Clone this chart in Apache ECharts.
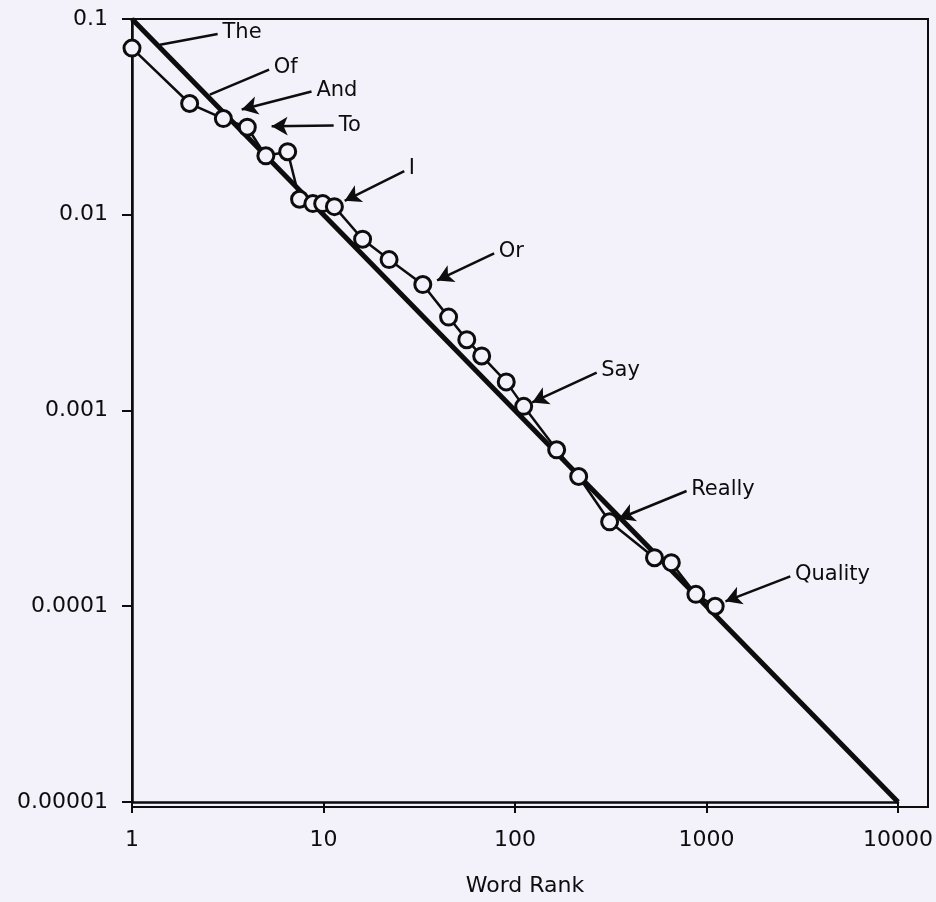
<!DOCTYPE html>
<html>
<head>
<meta charset="utf-8">
<script src="https://cdn.jsdelivr.net/npm/echarts@6/dist/echarts.min.js"></script>
<style>
    html, body { margin: 0; padding: 0; background: #f3f2fb; }
    #main { width: 936px; height: 902px; }
</style>
</head>
<body>
<div id="main"></div>
<script>
// word rank vs. relative frequency
const ranks = [1, 2, 3, 4, 5, 6.5, 7.5, 8.8, 9.9, 11.4, 16, 22, 33, 45, 56, 67, 90, 111, 165, 215, 312, 535, 655, 880, 1110];
const freqs = [0.071, 0.037, 0.031, 0.028, 0.020, 0.021, 0.012, 0.0114, 0.0114, 0.011, 0.0075, 0.0059, 0.0044, 0.0030, 0.0023, 0.0019, 0.0014, 0.00105, 0.00063, 0.00046, 0.00027, 0.000177, 0.000167, 0.000115, 0.0001];

// ideal Zipf line
const zipfRanks = [1, 10000];
const zipfFreqs = [0.1, 0.00001];

const xTicks = [1, 10, 100, 1000, 10000];
const xTickLabels = ['1', '10', '100', '1000', '10000'];
const yTicks = [0.00001, 0.0001, 0.001, 0.01, 0.1];
const yTickLabels = ['0.00001', '0.0001', '0.001', '0.01', '0.1'];

// annotated words: where the pointer starts (on the curve) and where the word sits
const words = ['The', 'Of', 'And', 'To', 'I', 'Or', 'Say', 'Really', 'Quality'];
const wordTips = [[1.4, 0.0738], [2.55, 0.0411], [3.74, 0.0345], [5.36, 0.0283], [12.9, 0.01178], [39.2, 0.00462], [123, 0.0011], [348, 0.00028], [1256, 0.000106]];
const wordEnds = [[2.8, 0.0839], [5.2, 0.0551], [8.66, 0.0426], [11.3, 0.0286], [26.4, 0.0167], [77.8, 0.00634], [267, 0.00156], [787, 0.000388], [2738, 0.000142]];
const wordArrows = [false, false, true, true, true, true, true, true, true];

const FONT = 'DejaVu Sans';
const INK = '#0d0d0d';
const BG = '#f3f2fb';

function tickLabel(ticks, labels) {
    return function (v) {
        for (let i = 0; i < ticks.length; i++) {
            if (Math.abs(Math.log10(v / ticks[i])) < 1e-6) return labels[i];
        }
        return '';
    };
}

let myChart = echarts.init(document.getElementById('main'));

let pointData = ranks.map((r, i) => [r, freqs[i]]);
let zipfData = zipfRanks.map((r, i) => [r, zipfFreqs[i]]);
let arrowData = words.map((w, i) => [
    { name: w, coord: wordTips[i], symbol: wordArrows[i] ? 'arrow' : 'none' },
    { name: w, coord: wordEnds[i], symbol: 'none' }
]);

let option = {
    backgroundColor: BG,
    animation: false,
    grid: [
        { left: 132, top: 19, width: 768, height: 788 },
        // outer frame, a little wider than the data area
        { left: 132, top: 19, width: 796, height: 788, show: true, borderColor: INK, borderWidth: 2, backgroundColor: 'transparent' }
    ],
    xAxis: [
        {
            type: 'log',
            logBase: 10,
            min: 1,
            max: 10000,
            gridIndex: 0,
            name: 'Word Rank',
            nameLocation: 'middle',
            nameGap: 73,
            nameTextStyle: { fontFamily: FONT, fontSize: 22, color: INK, padding: [0, 0, 0, 20] },
            axisLine: { lineStyle: { color: INK, width: 2.5 } },
            axisTick: { length: 11, lineStyle: { color: INK, width: 2 } },
            minorTick: { show: false },
            splitLine: { show: false },
            axisLabel: { margin: 27, fontFamily: FONT, fontSize: 22, color: INK, formatter: tickLabel(xTicks, xTickLabels) }
        },
        { type: 'value', gridIndex: 1, show: false, min: 0, max: 1 }
    ],
    yAxis: [
        {
            type: 'log',
            logBase: 10,
            min: 0.00001,
            max: 0.1,
            gridIndex: 0,
            axisLine: { lineStyle: { color: INK, width: 2.5 } },
            axisTick: { length: 10, lineStyle: { color: INK, width: 2 } },
            minorTick: { show: false },
            splitLine: { show: false },
            axisLabel: { margin: 24, fontFamily: FONT, fontSize: 22, color: INK, formatter: tickLabel(yTicks, yTickLabels) }
        },
        { type: 'value', gridIndex: 1, show: false, min: 0, max: 1 }
    ],
    series: [
        {
            name: 'zipf',
            type: 'line',
            xAxisIndex: 0,
            yAxisIndex: 0,
            data: zipfData,
            symbol: 'none',
            lineStyle: { color: INK, width: 5 },
            z: 2,
            markLine: {
                silent: true,
                animation: false,
                symbolSize: [14, 16],
                lineStyle: { color: INK, width: 2.5, type: 'solid' },
                itemStyle: { color: INK },
                label: {
                    show: true,
                    position: 'end',
                    distance: 5,
                    fontFamily: FONT,
                    fontSize: 21,
                    color: INK,
                    formatter: function (p) { return p.name; }
                },
                emphasis: { disabled: true },
                data: arrowData
            }
        },
        {
            name: 'words',
            type: 'line',
            xAxisIndex: 0,
            yAxisIndex: 0,
            data: pointData,
            symbol: 'circle',
            symbolSize: 16,
            showAllSymbol: true,
            lineStyle: { color: INK, width: 2.5 },
            itemStyle: { color: BG, borderColor: INK, borderWidth: 3 },
            z: 3
        }
    ]
};

myChart.setOption(option);
</script>
</body>
</html>
